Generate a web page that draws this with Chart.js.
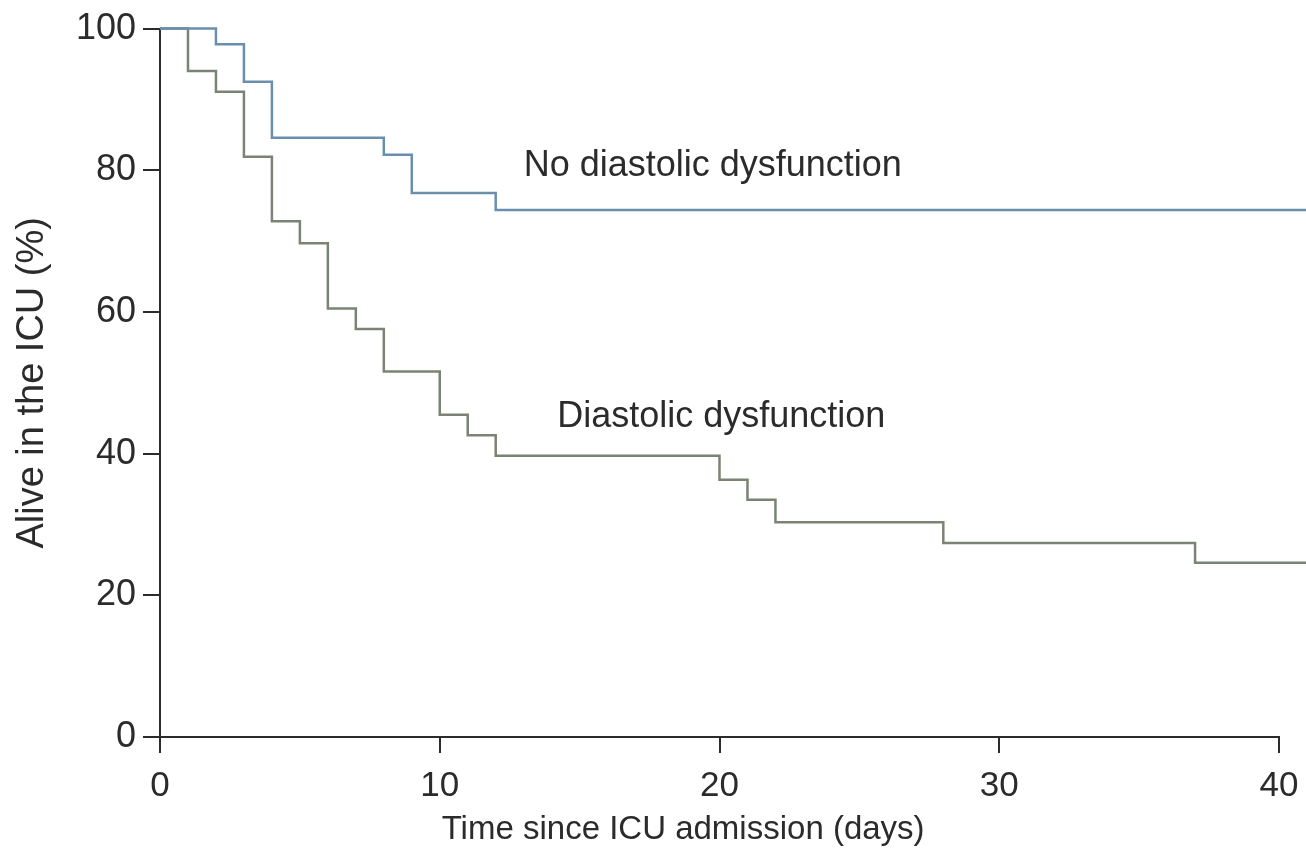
<!DOCTYPE html>
<html>
<head>
<meta charset="utf-8">
<title>ICU survival</title>
<script src="https://cdn.jsdelivr.net/npm/chart.js@4.4.1/dist/chart.umd.min.js"></script>
<style>
  html, body { margin: 0; padding: 0; background: #fff; }
  #wrap { width: 1306px; height: 856px; }
</style>
</head>
<body>
<div id="wrap"><canvas id="km"></canvas></div>
<script>
// Kaplan-Meier steps (day, % alive)
var noDdDays = [0, 2, 3, 4, 8, 9, 12, 41]
var noDdAlive = [100, 97.8, 92.5, 84.6, 82.2, 76.8, 74.4, 74.4]

var ddDays = [0, 1, 2, 3, 4, 5, 6, 7, 8, 10, 11, 12, 20, 21, 22, 28, 37, 41]
var ddAlive = [100, 94.0, 91.1, 81.9, 72.8, 69.7, 60.5, 57.6, 51.6, 45.5, 42.6, 39.7, 36.3, 33.5, 30.3, 27.4, 24.6, 24.6]

var xTicks = [0, 10, 20, 30, 40]
var yTicks = [0, 20, 40, 60, 80, 100]

var seriesNames = ["No diastolic dysfunction", "Diastolic dysfunction"]
var xTitle = "Time since ICU admission (days)"
var yTitle = "Alive in the ICU (%)"

function toPoints(days, vals) {
    var pts = []
    for (var i = 0; i < days.length; i++) pts.push({ x: days[i], y: vals[i] })
    return pts
}

var font = "'Liberation Sans', Arial, Helvetica, sans-serif"
var inkColor = "#2b2b2b"

// curve labels and x title, placed in data units
var textPlugin = {
    id: "curveLabels",
    afterDraw: function(chart) {
        var ctx = chart.ctx
        var xs = chart.scales.x
        var ys = chart.scales.y
        ctx.save()
        ctx.fillStyle = inkColor
        ctx.font = "36px " + font
        ctx.textBaseline = "middle"
        ctx.textAlign = "left"
        ctx.fillText(seriesNames[0], xs.getPixelForValue(13.0), ys.getPixelForValue(80.6))
        ctx.fillText(seriesNames[1], xs.getPixelForValue(14.2), ys.getPixelForValue(45.2))
        ctx.font = "33px " + font
        ctx.textAlign = "center"
        ctx.fillText(xTitle, xs.getPixelForValue(18.7), 830)
        ctx.restore()
    }
}

new Chart(document.getElementById("km"), {
    type: "line",
    data: {
        datasets: [{
            label: seriesNames[0],
            data: toPoints(noDdDays, noDdAlive),
            stepped: "before",
            borderColor: "#6a8fad",
            borderWidth: 2.5,
            pointRadius: 0,
            fill: false,
            clip: false
        }, {
            label: seriesNames[1],
            data: toPoints(ddDays, ddAlive),
            stepped: "before",
            borderColor: "#7b8474",
            borderWidth: 2.5,
            pointRadius: 0,
            fill: false,
            clip: false
        }]
    },
    options: {
        responsive: true,
        maintainAspectRatio: false,
        animation: false,
        layout: { padding: { top: 28, right: 27, left: 0, bottom: 0 } },
        plugins: {
            legend: { display: false },
            tooltip: { enabled: false }
        },
        scales: {
            x: {
                type: "linear",
                min: 0,
                max: 40,
                afterBuildTicks: function(scale) {
                    scale.ticks = xTicks.map(function(v) { return { value: v } })
                },
                afterFit: function(scale) {
                    scale.height = 119
                    scale.paddingLeft = 0
                    scale.paddingRight = 0
                },
                border: { display: true, color: inkColor, width: 2 },
                grid: {
                    drawOnChartArea: false,
                    drawTicks: true,
                    tickLength: 16,
                    color: inkColor,
                    lineWidth: 2
                },
                ticks: {
                    color: inkColor,
                    font: { family: font, size: 35 },
                    padding: 12,
                    maxRotation: 0
                }
            },
            y: {
                type: "linear",
                min: 0,
                max: 100,
                afterBuildTicks: function(scale) {
                    scale.ticks = yTicks.map(function(v) { return { value: v } })
                },
                afterFit: function(scale) { scale.width = 160 },
                border: { display: true, color: inkColor, width: 2 },
                grid: {
                    drawOnChartArea: false,
                    drawTicks: true,
                    tickLength: 17,
                    color: inkColor,
                    lineWidth: 2
                },
                ticks: {
                    color: inkColor,
                    font: { family: font, size: 36 },
                    padding: 7
                },
                title: {
                    display: true,
                    text: yTitle,
                    color: inkColor,
                    font: { family: font, size: 38 },
                    padding: { top: 10, bottom: 0 }
                }
            }
        }
    },
    plugins: [textPlugin]
});
</script>
</body>
</html>
